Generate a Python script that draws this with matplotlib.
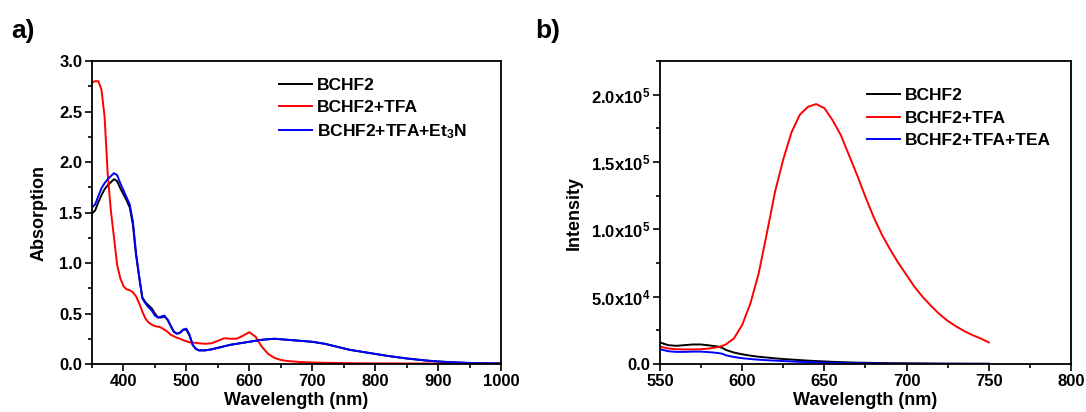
import numpy as np
import matplotlib
matplotlib.use("Agg")
import matplotlib.pyplot as plt
from matplotlib.ticker import MultipleLocator, FuncFormatter

plt.rcParams['font.family'] = ['Liberation Sans', 'DejaVu Sans']
plt.rcParams['font.weight'] = 'bold'
plt.rcParams['mathtext.fontset'] = 'custom'
plt.rcParams['mathtext.rm'] = 'Liberation Sans:bold'
plt.rcParams['mathtext.it'] = 'Liberation Sans:bold'
plt.rcParams['mathtext.bf'] = 'Liberation Sans:bold'
plt.rcParams['mathtext.default'] = 'rm'

# ---- a) absorcion ----
wl_abs = [350, 355, 360, 365, 370, 375, 380, 385, 390, 395, 400, 405, 410, 415, 420,
          425, 430, 435, 440, 445, 450, 455, 460, 465, 470, 475, 480, 485, 490, 495,
          500, 505, 510, 515, 520, 530, 540, 550, 560, 570, 580, 590, 600, 610, 620,
          630, 640, 650, 660, 680, 700, 720, 740, 760, 780, 800, 820, 850, 880, 900,
          930, 960, 1000]
abs_bchf2 = [1.49, 1.52, 1.60, 1.67, 1.73, 1.77, 1.80, 1.83, 1.81, 1.74, 1.68, 1.62, 1.55, 1.38, 1.08,
             0.86, 0.66, 0.61, 0.58, 0.55, 0.50, 0.46, 0.46, 0.47, 0.44, 0.38, 0.32, 0.30, 0.31, 0.34,
             0.34, 0.28, 0.19, 0.15, 0.135, 0.135, 0.145, 0.16, 0.175, 0.19, 0.20, 0.21, 0.22, 0.23, 0.24,
             0.245, 0.25, 0.245, 0.24, 0.23, 0.22, 0.20, 0.17, 0.14, 0.12, 0.10, 0.08, 0.055, 0.035, 0.025,
             0.015, 0.008, 0.005]
abs_tfa = [2.79, 2.80, 2.80, 2.72, 2.45, 1.88, 1.52, 1.25, 0.98, 0.85, 0.77, 0.74, 0.73, 0.71, 0.67,
           0.60, 0.52, 0.45, 0.41, 0.39, 0.375, 0.37, 0.36, 0.34, 0.32, 0.29, 0.275, 0.26, 0.25, 0.235,
           0.225, 0.215, 0.21, 0.21, 0.205, 0.20, 0.205, 0.23, 0.255, 0.25, 0.25, 0.28, 0.315, 0.27, 0.17,
           0.10, 0.06, 0.04, 0.03, 0.02, 0.015, 0.012, 0.01, 0.008, 0.007, 0.006, 0.006, 0.005, 0.005, 0.005,
           0.005, 0.005, 0.005]
abs_tfa_et3n = [1.55, 1.58, 1.66, 1.74, 1.79, 1.83, 1.86, 1.89, 1.87, 1.79, 1.72, 1.65, 1.58, 1.41, 1.10,
                0.87, 0.65, 0.60, 0.56, 0.53, 0.48, 0.46, 0.47, 0.48, 0.44, 0.38, 0.32, 0.30, 0.31, 0.34,
                0.35, 0.29, 0.19, 0.15, 0.135, 0.135, 0.145, 0.16, 0.175, 0.19, 0.20, 0.21, 0.22, 0.23, 0.24,
                0.245, 0.25, 0.245, 0.24, 0.23, 0.22, 0.20, 0.17, 0.14, 0.12, 0.10, 0.08, 0.055, 0.035, 0.025,
                0.015, 0.008, 0.005]

# ---- b) emision ----
wl_em = [550, 555, 560, 565, 570, 575, 580, 585, 588, 590, 595, 600, 605, 610, 615,
         620, 625, 630, 635, 640, 645, 650, 655, 660, 665, 670, 675, 680, 685, 690,
         695, 700, 705, 710, 715, 720, 725, 730, 735, 740, 745, 750]
em_bchf2 = [16000, 14000, 13500, 14000, 14500, 14500, 13800, 13000, 12000, 10500, 8500, 7200, 6200, 5400, 4800,
            4200, 3700, 3300, 2900, 2500, 2200, 1900, 1600, 1400, 1200, 1000, 900, 800, 700, 600,
            550, 500, 450, 400, 350, 300, 280, 250, 230, 210, 200, 200]
em_tfa = [13000, 11500, 11000, 10800, 10800, 11000, 11500, 12500, 13500, 14500, 19000, 29000, 45000, 67000, 97000,
          128000, 152000, 172000, 185000, 191000, 193000, 190000, 181000, 170000, 155000, 140000, 124000, 109000, 96000, 85000,
          75000, 66000, 57000, 49500, 43000, 37000, 32000, 28000, 24500, 21500, 19000, 16000]
em_tfa_tea = [11000, 9500, 9000, 9000, 9200, 9200, 8800, 8200, 7600, 6500, 5200, 4300, 3700, 3200, 2800,
              2500, 2200, 1900, 1600, 1400, 1200, 1000, 850, 700, 600, 500, 450, 400, 350, 300,
              250, 220, 200, 180, 160, 140, 130, 120, 110, 100, 100, 100]

fig = plt.figure(figsize=(10.86, 4.12), dpi=100)
ax1 = fig.add_axes([0.0847, 0.1165, 0.3766, 0.7354])
ax2 = fig.add_axes([0.6077, 0.1165, 0.3785, 0.7354])

lw = 1.4
ax1.plot(wl_abs, abs_bchf2, color='black', lw=lw, label='BCHF2')
ax1.plot(wl_abs, abs_tfa, color='red', lw=lw, label='BCHF2+TFA')
ax1.plot(wl_abs, abs_tfa_et3n, color='blue', lw=lw, label='BCHF2+TFA+Et$_3$N')
ax1.set_xlim(350, 1000)
ax1.set_ylim(0, 3.0)
ax1.xaxis.set_major_locator(MultipleLocator(100))
ax1.xaxis.set_minor_locator(MultipleLocator(50))
ax1.yaxis.set_major_locator(MultipleLocator(0.5))
ax1.yaxis.set_minor_locator(MultipleLocator(0.25))
ax1.yaxis.set_major_formatter(FuncFormatter(lambda v, p: f"{v:.1f}"))
ax1.set_xlabel('Wavelength (nm)', fontsize=13, fontweight='bold', labelpad=2)
ax1.set_ylabel('Absorption', fontsize=13, fontweight='bold', labelpad=8)

ax2.plot(wl_em, em_bchf2, color='black', lw=lw, label='BCHF2')
ax2.plot(wl_em, em_tfa, color='red', lw=lw, label='BCHF2+TFA')
ax2.plot(wl_em, em_tfa_tea, color='blue', lw=lw, label='BCHF2+TFA+TEA')
ax2.set_xlim(550, 800)
ax2.set_ylim(0, 2.25e5)
ax2.xaxis.set_major_locator(MultipleLocator(50))
ax2.xaxis.set_minor_locator(MultipleLocator(25))
ax2.yaxis.set_major_locator(MultipleLocator(5e4))
ax2.yaxis.set_minor_locator(MultipleLocator(2.5e4))


def sci(v, p):
    if v <= 0:
        return "0.0"
    e = int(np.floor(np.log10(v)))
    return f"{v / 10**e:.1f}x10$^{{{e}}}$"


ax2.yaxis.set_major_formatter(FuncFormatter(sci))
ax2.set_xlabel('Wavelength (nm)', fontsize=13, fontweight='bold', labelpad=2)
ax2.set_ylabel('Intensity', fontsize=13, fontweight='bold', labelpad=6)

legend_pos = {ax1: (0.457, 0.945), ax2: (0.504, 0.91)}
for ax in (ax1, ax2):
    ax.tick_params(which='both', direction='out', top=False, right=False, labelsize=12, pad=2)
    ax.tick_params(which='major', length=5, width=1.2)
    ax.tick_params(which='minor', length=3, width=1.2)
    for s in ax.spines.values():
        s.set_linewidth(1.3)
    for lab in ax.get_xticklabels() + ax.get_yticklabels():
        lab.set_fontweight('bold')
    ax.legend(loc='upper left', bbox_to_anchor=legend_pos[ax], frameon=False,
              fontsize=12.5, handlelength=1.9, handletextpad=0.3, labelspacing=0.42,
              borderpad=0, borderaxespad=0)

fig.text(0.010, 0.955, 'a)', fontsize=19, fontweight='bold', va='top')
fig.text(0.493, 0.955, 'b)', fontsize=19, fontweight='bold', va='top')

fig.savefig('out.png', dpi=100)
